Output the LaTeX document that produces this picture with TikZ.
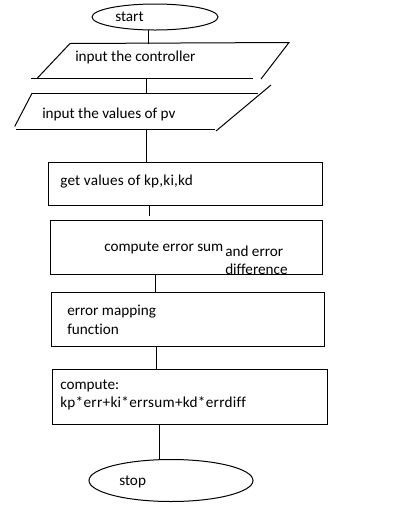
\documentclass[tikz,border=0pt]{standalone}
\usepackage{fontspec}
\setmainfont{Carlito}[Ligatures={NoCommon}]
\usetikzlibrary{shapes.geometric}
\begin{document}
\begin{tikzpicture}[x=0.75pt,y=-0.75pt,
  ln/.style={draw=black,line width=0.75pt},
  box/.style={ln,rectangle,inner sep=0pt},
  oval/.style={ln,ellipse,inner sep=0pt},
  txt/.style={anchor=west,inner sep=0pt,font=\fontsize{11.4}{13}\selectfont,text=black},
  wide/.style={font=\fontsize{11.4}{13}\selectfont\addfontfeature{LetterSpace=#1}}]
\useasboundingbox (0,0) rectangle (406,519);
% terminals
\node[oval,minimum width=126*0.75pt,minimum height=26*0.75pt] (start) at (155,17) {};
\node[txt] (tstart) at (115,17) {start};
\node[oval,minimum width=164*0.75pt,minimum height=42*0.75pt] (stop) at (171,480.5) {};
\node[txt] (tstop) at (119,482) {stop};
% parallelogram 1
\coordinate (p1a) at (70,43.5);
\coordinate (p1b) at (289,42.5);
\coordinate (p1c) at (261,79);
\coordinate (p1d) at (37,78.5);
\draw[ln] (p1a) -- (p1b) -- (p1c);
\draw[ln] (p1a) -- (p1d);
\draw[ln] (31,78.5) -- (253,78.5);
\node[txt] (tin1) at (75,57) {input the controller};
% parallelogram 2
\coordinate (p2a) at (32,93.3);
\coordinate (p2b) at (258,93.3);
\coordinate (p2r1) at (271,85);
\coordinate (p2r2) at (216,131);
\coordinate (p2l) at (14.7,126.5);
\draw[ln] (p2a) -- (p2b);
\draw[ln] (p2r1) -- (p2r2);
\draw[ln] (p2a) -- (p2l);
\draw[ln] (16,129.3) -- (215,129.3);
\node[txt] (tin2) at (42,114) {input the values of pv};
% boxes
\node[box,minimum width=273.5*0.75pt,minimum height=42.3*0.75pt] (b3) at (185.25,183.85) {};
\node[txt,wide=1.4] (t3) at (60,182) {get values of kp,ki,kd};
\node[box,minimum width=271.5*0.75pt,minimum height=53.5*0.75pt] (b4) at (186.25,247.25) {};
\node[txt] (t4a) at (104,248) {compute error sum};
\node[txt] (t4b) at (225,251) {and error};
\node[txt] (t4c) at (225,269) {difference};
\node[box,minimum width=273.2*0.75pt,minimum height=53.6*0.75pt] (b5) at (188.1,319.5) {};
\node[txt] (t5a) at (67,312) {error mapping};
\node[txt] (t5b) at (67,329) {function};
\node[box,minimum width=275.2*0.75pt,minimum height=55.3*0.75pt] (b6) at (190.1,396.65) {};
\node[txt] (t6a) at (60,386) {compute:};
\node[txt,wide=1.9] (t6b) at (60,403) {kp*err+ki*errsum+kd*errdiff};
% connectors
\coordinate (c1) at (148,30);
\coordinate (c2) at (148,43.5);
\draw[ln] (c1) -- (c2);
\coordinate (c3) at (146,78.5);
\coordinate (c4) at (146,93.3);
\draw[ln] (c3) -- (c4);
\coordinate (c5) at (146.5,129.3);
\draw[ln] (c5) -- (c5 |- b3.north);
\coordinate (c6) at (149,215.5);
\draw[ln] (c6 |- b3.south) -- (c6);
\coordinate (c7) at (155.3,0);
\draw[ln] (c7 |- b4.south) -- (c7 |- b5.north);
\coordinate (c8) at (156.3,0);
\draw[ln] (c8 |- b5.south) -- (c8 |- b6.north);
\coordinate (c9) at (159.5,0);
\draw[ln] (c9 |- b6.south) -- (c9 |- stop.north);
\end{tikzpicture}
\end{document}
